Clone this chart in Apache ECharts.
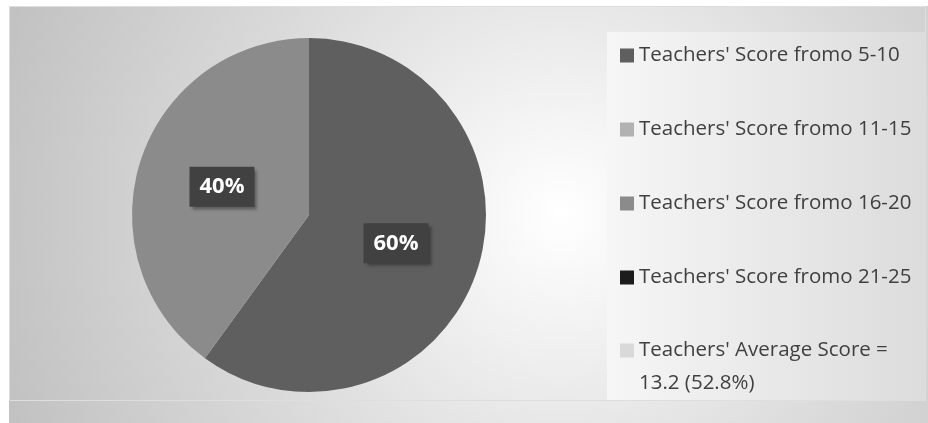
<!DOCTYPE html>
<html>
<head>
<meta charset="utf-8">
<script src="https://cdn.jsdelivr.net/npm/echarts@6/dist/echarts.min.js"></script>
<style>
  html, body { margin: 0; padding: 0; background: #ffffff; }
  #chart { width: 928px; height: 423px; }
</style>
</head>
<body>
<div id="chart"></div>
<script>
// Score bands and the share of teachers in each
const categories = [
  "Teachers' Score fromo 5-10",
  "Teachers' Score fromo 11-15",
  "Teachers' Score fromo 16-20",
  "Teachers' Score fromo 21-25",
  "Teachers' Average Score = 13.2 (52.8%)"
];
const shares = [60, 0, 40, 0, 0];
const sliceColors = ['#5f5f5f', '#b2b2b2', '#8b8b8b', '#1c1c1c', '#d9d9d9'];

const LINE_H = 33;

const chart = echarts.init(document.getElementById('chart'), null, { renderer: 'canvas' });

const pieData = categories.map((name, i) => ({
  name: name,
  value: shares[i],
  itemStyle: { color: sliceColors[i] },
  label: { show: shares[i] > 0 }
}));

const legendText = {
  fontFamily: 'Open Sans',
  fontSize: 20.5,
  color: '#404040',
  lineHeight: LINE_H
};

const legendCommon = {
  orient: 'vertical',
  left: 615,
  itemWidth: 14,
  itemHeight: 14,
  itemGap: 41,
  icon: 'rect',
  selectedMode: false
};

chart.setOption({
  animation: false,
  graphic: [
    {
      type: 'rect',
      z: -10,
      shape: { x: 9, y: 6, width: 919, height: 417 },
      style: {
        fill: {
          type: 'radial', x: 0.6, y: 0.5, r: 1.44,
          colorStops: [
            { offset: 0, color: '#ffffff' },
            { offset: 0.55, color: '#dadada' },
            { offset: 1, color: '#c0c0c0' }
          ]
        }
      },
      silent: true
    },
    {
      type: 'rect',
      z: -9,
      shape: { x: 607, y: 32, width: 318, height: 369 },
      style: {
        fill: {
          type: 'linear', x: 0, y: 0, x2: 1, y2: 0,
          colorStops: [
            { offset: 0, color: '#f6f6f6' },
            { offset: 1, color: '#dcdcdc' }
          ]
        }
      },
      silent: true
    },
    {
      type: 'rect',
      z: -8,
      shape: { x: 9.5, y: 6.5, width: 916, height: 394 },
      style: { fill: 'none', stroke: '#dedede', lineWidth: 1 },
      silent: true
    }
  ],
  legend: [
    Object.assign({}, legendCommon, {
      top: 34,
      textStyle: legendText,
      data: categories.slice(0, 4)
    }),
    // the wrapped entry: an empty leading line keeps the square beside its first line
    Object.assign({}, legendCommon, {
      top: 296,
      formatter: (name) => '\n' + name.replace(' = ', ' =\n'),
      textStyle: legendText,
      data: categories.slice(4)
    })
  ],
  series: [
    {
      type: 'pie',
      center: [309, 215],
      radius: 177,
      startAngle: 90,
      clockwise: true,
      silent: true,
      emphasis: { disabled: true },
      labelLine: { show: false },
      label: {
        position: 'inside',
        formatter: '{d}%',
        fontFamily: 'Open Sans',
        fontWeight: 'bold',
        fontSize: 22,
        color: '#ffffff',
        backgroundColor: '#414141',
        padding: [9, 10],
        shadowColor: 'rgba(0,0,0,0.35)',
        shadowOffsetX: 3,
        shadowOffsetY: 3,
        shadowBlur: 3
      },
      data: pieData
    }
  ]
});
</script>
</body>
</html>
